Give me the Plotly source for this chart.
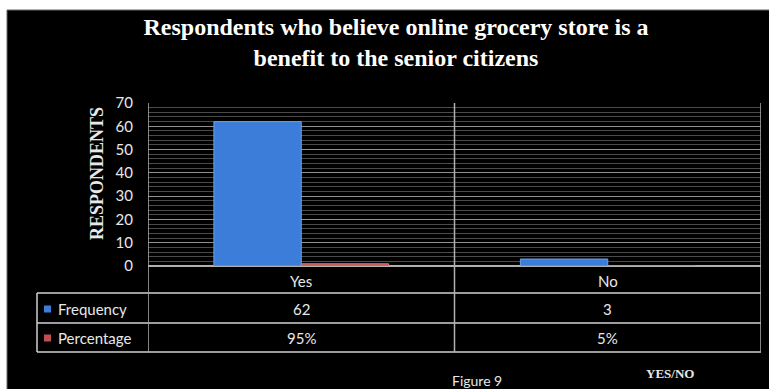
import plotly.graph_objects as go

categories = ["Yes", "No"]
frequency = [62, 3]
percentage = [0.95, 0.05]
percentage_labels = ["95%", "5%"]
series_names = ["Frequency", "Percentage"]
y_ticks = [0, 10, 20, 30, 40, 50, 60, 70]

W, H = 769, 389
L, R, T, B = 148, 8, 103, 123
pw, ph = W - L - R, H - T - B

def px_x(p):
    return (p - L) / pw

def px_y(p):
    return (H - B - p) / ph

blue = "#3b7dd8"
red = "#c0504d"

fig = go.Figure()
fig.add_bar(x=categories, y=frequency, name=series_names[0], marker=dict(color=blue, line=dict(color="#6aa2ea", width=1)))
fig.add_bar(x=categories, y=percentage, name=series_names[1], marker=dict(color=red, line=dict(color="#d88080", width=1)))

shapes = []
# black background
shapes.append(dict(type="rect", xref="paper", yref="paper", x0=px_x(7), x1=px_x(770), y0=px_y(390), y1=px_y(10),
                   fillcolor="black", line=dict(color="#666", width=1), layer="below"))
grey = "#b0b0b0"
# table horizontal lines
for py in [293, 323, 352]:
    shapes.append(dict(type="line", xref="paper", yref="paper", x0=px_x(37), x1=1, y0=px_y(py), y1=px_y(py),
                       line=dict(color="#d0d0d0", width=1.5)))
# left edge of table
shapes.append(dict(type="line", xref="paper", yref="paper", x0=px_x(37), x1=px_x(37), y0=px_y(293), y1=px_y(352),
                   line=dict(color="#d0d0d0", width=1.5)))
# vertical category boundaries
for xv in [-0.5, 0.5, 1.5]:
    shapes.append(dict(type="line", xref="x", yref="paper", x0=xv, x1=xv, y0=1, y1=px_y(352),
                       line=dict(color=grey, width=1.5)))
# legend keys
for c, py in [(blue, 309), (red, 338)]:
    shapes.append(dict(type="rect", xref="paper", yref="paper", x0=px_x(44), x1=px_x(51), y0=px_y(py + 3.5), y1=px_y(py - 3.5),
                       fillcolor=c, line=dict(width=0)))

annotations = []
tfont = dict(family="Lato", size=15, color="#e8e8e8")
row_y = [px_y(281), px_y(309), px_y(338)]
def ann(**kw):
    d = dict(showarrow=False, xanchor="center", yanchor="middle")
    d.update(kw)
    annotations.append(d)

for i, cat in enumerate(categories):
    ann(x=cat, xref="x", y=row_y[0], yref="paper", text=cat, font=tfont)
    ann(x=cat, xref="x", y=row_y[1], yref="paper", text=str(frequency[i]), font=tfont)
    ann(x=cat, xref="x", y=row_y[2], yref="paper", text=percentage_labels[i], font=tfont)
for name, ry in zip(series_names, row_y[1:]):
    ann(x=px_x(56), xref="paper", y=ry, yref="paper", text=name, xanchor="left", font=tfont)
ann(x=px_x(97), xref="paper", y=px_y(174), yref="paper", text="<b>RESPONDENTS</b>",
    textangle=-90, font=dict(family="Liberation Serif", size=18, color="#e8e8e8"))
ann(x=px_x(477), xref="paper", y=px_y(380), yref="paper", text="Figure 9",
    font=dict(family="Lato", size=14, color="#e8e8e8"))
ann(x=px_x(670), xref="paper", y=px_y(373), yref="paper", text="<b>YES/NO</b>",
    font=dict(family="Liberation Serif", size=13, color="#e8e8e8"))

fig.update_layout(
    width=W, height=H,
    margin=dict(l=L, r=R, t=T, b=B),
    paper_bgcolor="white", plot_bgcolor="black",
    showlegend=False,
    barmode="group", bargap=0.43, bargroupgap=0,
    title=dict(text="<b>Respondents who believe online grocery store is a<br>benefit to the senior citizens</b>",
               x=396 / W, xanchor="center", y=1 - 35 / H, yanchor="middle",
               font=dict(family="Liberation Serif", size=24, color="white")),
    xaxis=dict(range=[-0.5, 1.5], showticklabels=False, showgrid=False, zeroline=False, showline=False, ticks=""),
    yaxis=dict(range=[0, 70], tickvals=y_ticks, showgrid=True, gridcolor="#8f8f8f", gridwidth=1,
               minor=dict(dtick=2, showgrid=True, gridcolor="#4a4a4a", gridwidth=1),
               zeroline=True, zerolinecolor="#b0b0b0", zerolinewidth=1.5,
               ticks="", ticklabelstandoff=14,
               tickfont=dict(family="Lato", size=15, color="#e8e8e8")),
    shapes=shapes, annotations=annotations,
)

fig.write_html("out.html")
